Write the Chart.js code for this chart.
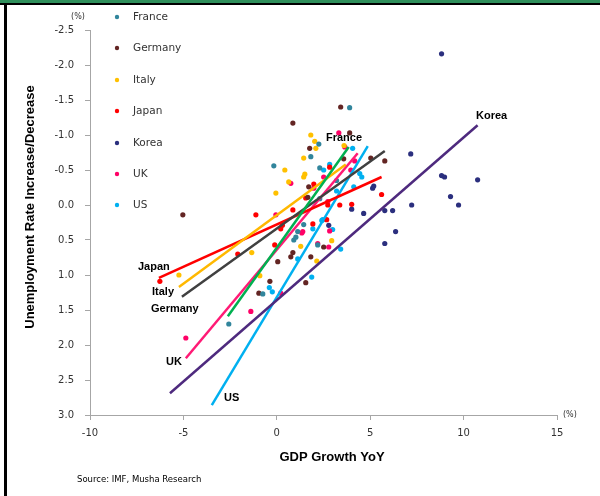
<!DOCTYPE html>
<html>
<head>
<meta charset="utf-8">
<script src="https://cdn.jsdelivr.net/npm/chart.js@4.4.1/dist/chart.umd.min.js"></script>
<style>
  html, body { margin: 0; padding: 0; background: #fff; }
  #frame { position: relative; width: 600px; height: 496px; overflow: hidden; }
  #topbar { position: absolute; left: 0; top: 0; width: 600px; height: 3px; background: #2F8F5B; }
  #topline { position: absolute; left: 0; top: 3px; width: 600px; height: 2px; background: #000; }
  #leftline { position: absolute; left: 4px; top: 3px; width: 3px; height: 493px; background: #000; }
  canvas { position: absolute; left: 0; top: 0; }
</style>
</head>
<body>
<div id="frame">
  <canvas id="chart" width="600" height="496"></canvas>
  <div id="topbar"></div>
  <div id="topline"></div>
  <div id="leftline"></div>
</div>
<script>
// GDP growth YoY (%) vs change in unemployment rate (pt)
const countries = ['France', 'Germany', 'Italy', 'Japan', 'Korea', 'UK', 'US'];

const france = [[-2.57,1.70],[-0.75,1.27],[-0.16,-0.56],[0.91,0.50],[1.02,0.46],[1.12,0.38],[1.44,0.28],
  [1.82,-0.69],[2.19,0.57],[2.25,-0.87],[2.30,-0.53],[2.30,-0.09],[3.20,-0.35],[3.90,-1.39]];
const germany = [[-5.03,0.14],[-0.96,1.26],[-0.37,1.09],[0.05,0.81],[0.75,0.74],[0.86,0.68],[0.86,-1.17],
  [1.55,1.11],[1.66,-0.11],[1.71,-0.26],[1.76,-0.81],[1.82,0.74],[2.51,0.60],[3.42,-1.40],[3.58,-0.66],
  [3.90,-1.03],[5.03,-0.67],[5.78,-0.63]];
const italy = [[-5.24,1.00],[-1.34,0.68],[-0.91,1.01],[-0.05,-0.17],[0.43,-0.50],[0.64,-0.33],[1.28,0.59],
  [1.44,-0.67],[1.44,-0.40],[1.50,-0.44],[1.82,-1.00],[2.03,-0.91],[2.09,-0.81],[2.14,0.80],[2.94,0.51],[3.60,-0.85]];
const japan = [[-6.26,1.09],[-2.09,0.70],[-1.12,0.14],[-0.11,0.57],[0.21,0.34],[0.30,0.29],[0.86,0.07],
  [1.55,-0.10],[1.93,0.27],[1.98,-0.30],[2.67,0.21],[2.73,0.00],[2.83,-0.54],[3.37,0.00],[4.01,-0.01],[5.61,-0.15]];
const korea = [[2.78,0.29],[4.01,0.06],[4.65,0.12],[5.13,-0.24],[5.19,-0.27],[5.78,0.08],[5.78,0.55],
  [6.20,0.08],[6.36,0.38],[7.17,-0.73],[7.22,0.00],[8.82,-2.16],[8.82,-0.42],[8.98,-0.40],[9.30,-0.12],
  [9.73,0.00],[10.75,-0.36]];
const uk = [[-4.87,1.90],[-1.39,1.52],[-0.05,0.14],[0.21,1.26],[0.75,-0.31],[1.34,0.40],[1.39,0.38],
  [1.98,-0.24],[2.19,0.55],[2.51,-0.40],[2.73,-0.05],[2.78,0.60],[2.83,0.37],[3.32,-1.03],[3.64,-0.83],
  [3.96,-0.50],[4.17,-0.63]];
const us = [[-0.40,1.18],[-0.24,1.24],[1.12,0.77],[1.87,1.03],[1.93,0.34],[2.41,0.22],[2.46,0.21],
  [2.51,-0.50],[2.83,-0.58],[2.99,0.35],[3.20,-0.20],[3.42,0.63],[4.06,-0.81],[4.12,-0.26],[4.44,-0.45],[4.55,-0.40]];

// trendline end points, same order as countries
const trendFrom = [[-2.62,1.59],[-5.08,1.31],[-5.24,1.17],[-6.31,1.04],[-5.72,2.69],[-4.87,2.19],[-3.48,2.86]];
const trendTo   = [[3.85,-0.83],[5.78,-0.77],[3.69,-0.58],[5.61,-0.40],[10.75,-1.14],[4.33,-0.74],[4.87,-0.84]];

const xTicks = [-10, -5, 0, 5, 10, 15];

const series = [france, germany, italy, japan, korea, uk, us];
const pointColors = ['#31859C', '#632523', '#FFC000', '#FF0000', '#2B2F7E', '#FF0066', '#00B0F0'];
const lineColors  = ['#00B050', '#404040', '#FFB800', '#FF0000', '#4E2A7E', '#FF1A75', '#00B0F0'];

// label spots for the trendlines (pixel positions, left edge / middle)
const trendLabelPos = [[326,138],[151,309],[152,292],[138,267],[476,116],[166,362],[224,398]];

const trendSets = countries.map((c, i) => ({
  label: c + ' trend',
  data: [{ x: trendFrom[i][0], y: trendFrom[i][1] }, { x: trendTo[i][0], y: trendTo[i][1] }],
  showLine: true,
  borderColor: lineColors[i],
  borderWidth: 2.5,
  pointRadius: 0,
  fill: false,
  order: 0
}));

const pointSets = countries.map((c, i) => ({
  label: c,
  data: series[i].map(p => ({ x: p[0], y: p[1] })),
  backgroundColor: pointColors[i],
  borderColor: pointColors[i],
  borderWidth: 0,
  pointRadius: 2.6,
  order: 1
}));

const extras = {
  id: 'extras',
  afterDraw(chart) {
    const c = chart.ctx;
    c.save();
    // legend
    const legendY = [17, 48, 80, 111, 143, 174, 205];
    c.font = '10.5px "DejaVu Sans"';
    c.textBaseline = 'middle';
    c.textAlign = 'left';
    countries.forEach((name, i) => {
      c.fillStyle = pointColors[i];
      c.beginPath();
      c.arc(117, legendY[i], 2.2, 0, Math.PI * 2);
      c.fill();
      c.fillStyle = '#333';
      c.fillText(name, 133, legendY[i]);
    });
    // trendline labels
    c.font = 'bold 11px "Liberation Sans"';
    c.fillStyle = '#000';
    countries.forEach((name, i) => {
      c.fillText(name, trendLabelPos[i][0], trendLabelPos[i][1]);
    });
    // unit marks
    c.font = '8px "DejaVu Sans"';
    c.fillStyle = '#333';
    c.textAlign = 'center';
    c.fillText('(%)', 78, 17);
    c.textAlign = 'left';
    c.fillText('(%)', 563, 415);
    // axis titles
    c.font = 'bold 13px "Liberation Sans"';
    c.fillStyle = '#000';
    c.textAlign = 'center';
    c.fillText('GDP Growth YoY', 332, 457);
    c.save();
    c.translate(30, 207);
    c.rotate(-Math.PI / 2);
    c.fillText('Unemployment Rate Increase/Decrease', 0, 0);
    c.restore();
    // source
    c.font = '8.5px "DejaVu Sans"';
    c.fillStyle = '#000';
    c.textAlign = 'left';
    c.fillText('Source: IMF, Musha Research', 77, 480);
    c.restore();
  }
};

const ctx = document.getElementById('chart').getContext('2d');
const chart = new Chart(ctx, {
  type: 'scatter',
  data: { datasets: [...trendSets, ...pointSets] },
  options: {
    responsive: false,
    animation: false,
    layout: { padding: { left: 0, top: 30, right: 43, bottom: 0 } },
    plugins: {
      legend: { display: false },
      tooltip: { enabled: false }
    },
    scales: {
      x: {
        type: 'linear',
        min: xTicks[0],
        max: xTicks[xTicks.length - 1],
        afterBuildTicks: s => { s.ticks = xTicks.map(v => ({ value: v })); },
        ticks: { color: '#333', font: { family: 'DejaVu Sans', size: 10 }, padding: 7 },
        grid: { drawOnChartArea: false, tickLength: 5, color: '#a6a6a6' },
        border: { color: '#a6a6a6' },
        afterFit: s => { s.height = 81; }
      },
      y: {
        min: -2.5,
        max: 3,
        reverse: true,
        ticks: {
          stepSize: 0.5,
          color: '#333',
          font: { family: 'DejaVu Sans', size: 10 },
          padding: 11,
          callback: v => Number(v).toFixed(1)
        },
        grid: { drawOnChartArea: false, tickLength: 5, color: '#a6a6a6' },
        border: { color: '#a6a6a6' },
        afterFit: s => { s.width = 90; }
      }
    }
  },
  plugins: [extras]
});
</script>
</body>
</html>
